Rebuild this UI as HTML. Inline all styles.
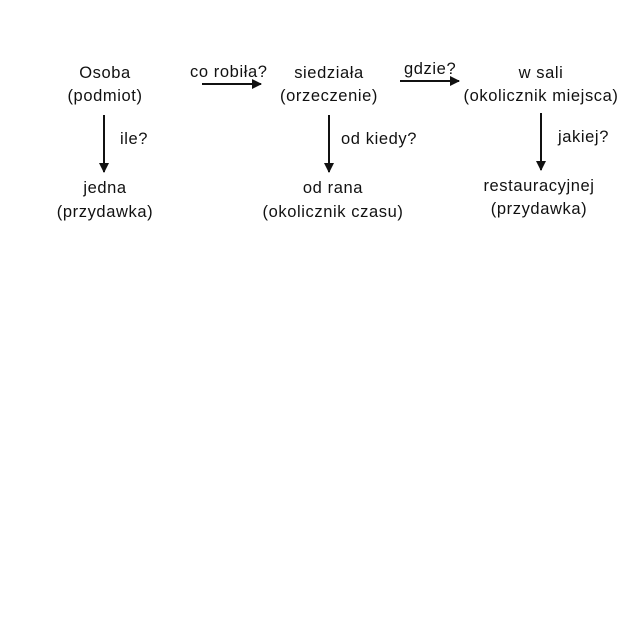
<!DOCTYPE html>
<html><head><style>html,body{margin:0;padding:0;background:#fff;width:625px;height:625px;overflow:hidden}</style></head>
<body>
<svg width="625" height="625" xmlns="http://www.w3.org/2000/svg" font-family="Liberation Sans, sans-serif" font-size="16.5" letter-spacing="0.6" fill="#111">
<defs><marker id="a" markerWidth="12" markerHeight="12" refX="9" refY="5" orient="auto" markerUnits="userSpaceOnUse"><path d="M0,0 L10,5 L0,10 z" fill="#111"/></marker></defs>
<g text-anchor="middle">
<text x="105" y="78">Osoba</text><text x="105" y="101">(podmiot)</text>
<text x="329" y="78">siedziała</text><text x="329" y="101">(orzeczenie)</text>
<text x="541" y="78">w sali</text><text x="541" y="101">(okolicznik miejsca)</text>
<text x="105" y="193">jedna</text><text x="105" y="217">(przydawka)</text>
<text x="333" y="193">od rana</text><text x="333" y="217">(okolicznik czasu)</text>
<text x="539" y="191">restauracyjnej</text><text x="539" y="214">(przydawka)</text>
</g>
<text x="190" y="77">co robiła?</text>
<text x="404" y="74">gdzie?</text>
<text x="120" y="144">ile?</text>
<text x="341" y="144">od kiedy?</text>
<text x="558" y="142">jakiej?</text>
<g stroke="#111" stroke-width="2" marker-end="url(#a)">
<line x1="202" y1="84" x2="261" y2="84"/>
<line x1="400" y1="81" x2="459" y2="81"/>
<line x1="104" y1="115" x2="104" y2="172"/>
<line x1="329" y1="115" x2="329" y2="172"/>
<line x1="541" y1="113" x2="541" y2="170"/>
</g>
</svg>
</body></html>
